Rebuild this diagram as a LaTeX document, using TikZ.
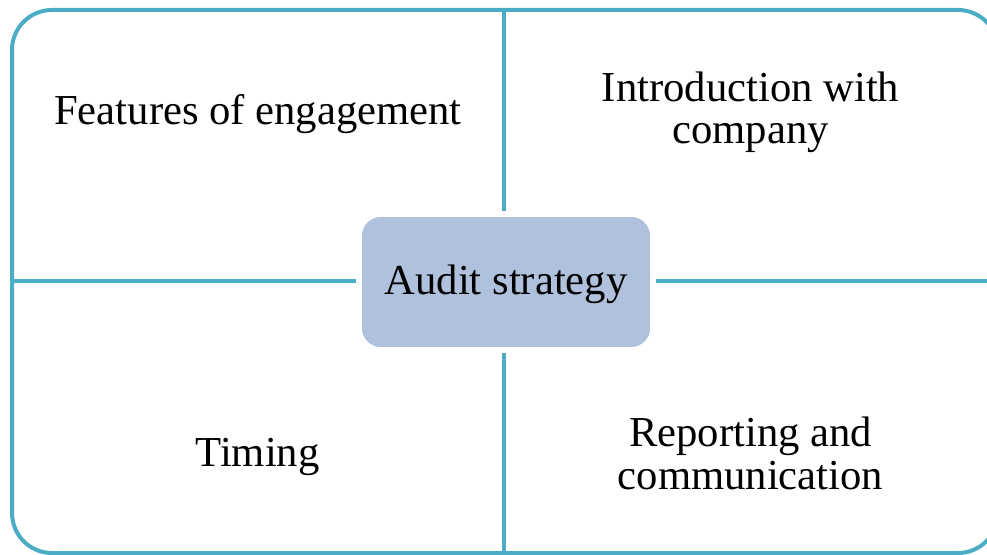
\documentclass[tikz,border=0pt]{standalone}
\usepackage{fontspec}
\setmainfont{Liberation Serif}
\definecolor{framecol}{RGB}{75,172,198}
\definecolor{hubfill}{RGB}{176,193,221}

\begin{document}
\begin{tikzpicture}[x=0.75pt, y=0.75pt,
    every node/.style={font=\fontsize{32}{31.7}\selectfont, inner sep=0pt, align=center},
    divider/.style={draw=framecol, line width=3.5pt},
    hub/.style={fill=hubfill, draw=white, line width=1.2pt, rounded corners=15pt,
        minimum width=217.5pt, minimum height=99pt, outer sep=3.6pt}]
				\useasboundingbox (0,0) rectangle (987,554);
				\clip (0,0) rectangle (987,554);
				% outer frame and centre box
				\node[draw=framecol, line width=3pt, rounded corners=30pt,
					minimum width=739.5pt, minimum height=407.25pt] (frame) at (505,272.5) {};
				\node[hub] (audit) at (506,272) {};
				\node[anchor=base] at (506,259.7) {Audit strategy};
				% dividers between the quarters
				\draw[divider] (frame.north -| 504,0) -- (audit.north -| 504,0);
				\draw[divider] (audit.south -| 504,0) -- (frame.south -| 504,0);
				\draw[divider] (frame.west |- 0,273) -- (audit.west |- 0,273);
				\draw[divider] (audit.east |- 0,273) -- (frame.east |- 0,273);
				% quarter labels
				\node[anchor=base] (features) at (258,429) {Features of engagement};
				\node[anchor=base] (intro) at (750.5,410) {Introduction with\\company};
				\node[anchor=base] (timing) at (257.5,87.3) {Timing};
				\node[anchor=base] (reporting) at (750.5,65) {Reporting and\\communication};
				\end{tikzpicture}
\end{document}
